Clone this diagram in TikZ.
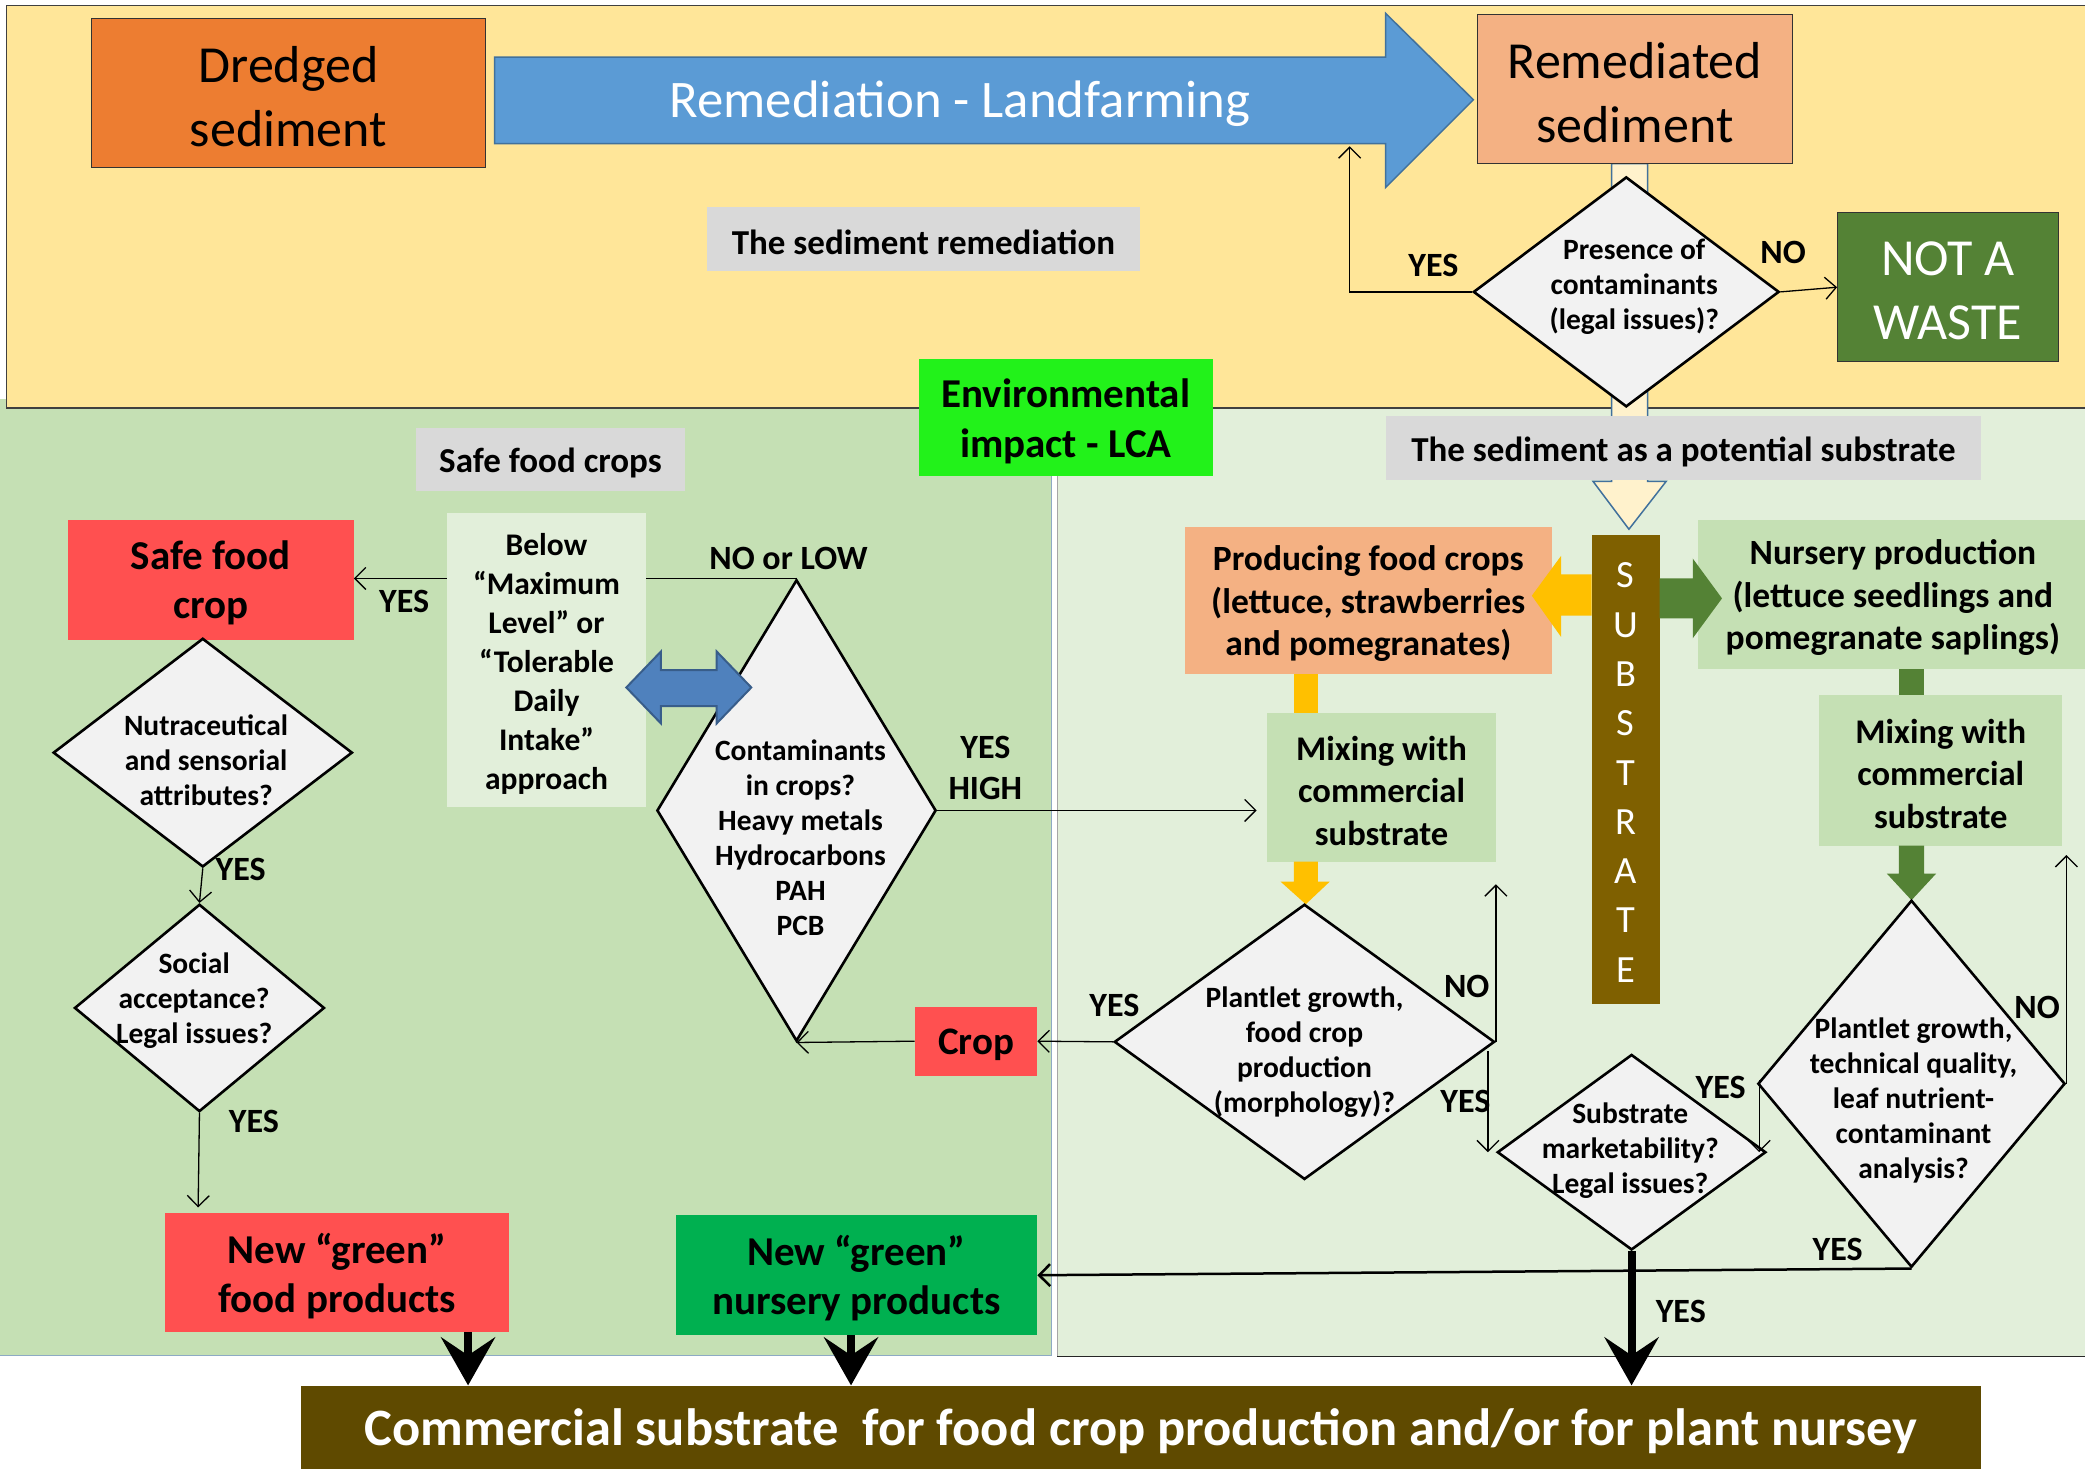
\documentclass[tikz,border=0pt]{standalone}
\usepackage{fontspec}
\setmainfont{Carlito}
\usetikzlibrary{arrows.meta,shapes.geometric,fit,calc}
\definecolor{yel}{HTML}{FFE699}
\definecolor{lgreen}{HTML}{C5E0B4}
\definecolor{rgreen}{HTML}{E2EFDA}
\definecolor{orangef}{HTML}{ED7D31}
\definecolor{bluef}{HTML}{5B9BD5}
\definecolor{bluebord}{HTML}{41719C}
\definecolor{salmon}{HTML}{F4B183}
\definecolor{darkgreen}{HTML}{548235}
\definecolor{graylab}{HTML}{D9D9D9}
\definecolor{envgreen}{HTML}{22F21A}
\definecolor{redf}{HTML}{FF5050}
\definecolor{dblf}{HTML}{4F81BD}
\definecolor{dblb}{HTML}{385D8A}
\definecolor{diaf}{HTML}{F2F2F2}
\definecolor{nurgreen}{HTML}{00B050}
\definecolor{commf}{HTML}{5F4A00}
\definecolor{subf}{HTML}{7F6000}
\definecolor{yarr}{HTML}{FFC000}
\definecolor{cream}{HTML}{FFF2CC}
% box drawn from its corners, text set in a separate node at its centre
\newcommand\fitbox[5]{\node[box, #1, fit={#2}] (#3) {}; \node[box, #4] (#3t) at ($(#3)+(0,2.5)$) {#5};}
\begin{document}
\begin{tikzpicture}[x=1.3297pt,y=-1.3297pt,
  box/.style={inner sep=0pt, align=center},
  bigtxt/.style={font=\fontsize{52pt}{64pt}\selectfont},
  grayt/.style={font=\bfseries\fontsize{35pt}{40pt}\selectfont},
  dia/.style={diamond, draw=black, line width=2.6pt, fill=diaf, inner sep=0pt},
  dtext/.style={align=center, inner sep=0pt, font=\bfseries\fontsize{29.5pt}{35pt}\selectfont},
  lbl/.style={inner sep=0pt, align=center, font=\bfseries\fontsize{34pt}{41pt}\selectfont},
  arr/.style={line width=1.3pt, -{Straight Barb[length=11pt,width=22pt]}},
  bigarr/.style={line width=8pt, -{Stealth[length=48pt,width=54pt,inset=18pt]}}
]
\useasboundingbox (0,0) rectangle (1568,1105);
\fill[white] (0,0) rectangle (1568,1105);

% panels
\fill[lgreen] (0,300) rectangle (791,1019);
\draw[bluebord!60, line width=1pt] (791,300) -- (791,1019) -- (0,1019);
\fill[rgreen] (795,307) rectangle (1570,1020);
\draw[gray!70, line width=0.8pt] (795,307) -- (795,1020);
\draw[black!85, line width=1.6pt] (795,1020) -- (1570,1020);
\fill[yel] (5,4) rectangle (1570,307);
\draw[black!75, line width=1.5pt] (1570,4) -- (5,4) -- (5,307) -- (1570,307);

% cream block arrow from remediated sediment to substrate
\draw[fill=cream, draw=bluebord, line width=1.5pt] (1212,123) -- (1239,123) -- (1239,362) -- (1253,362) -- (1225,398) -- (1198,362) -- (1212,362) -- cycle;

% blue landfarming arrow
\draw[fill=bluef, draw=bluebord, line width=1.5pt] (372,43) -- (1042,43) -- (1042,10) -- (1108,75) -- (1042,141) -- (1042,108) -- (372,108) -- cycle;
\node[box, text=white, font=\fontsize{52.8pt}{64pt}\selectfont] (land) at (722,78) {Remediation - Landfarming};

% top boxes
\fitbox{fill=orangef, draw=black!80, line width=1.2pt}{(69,14)(365,126)}{dredged}{bigtxt}{Dredged\\sediment}
\fitbox{fill=salmon, draw=black!80, line width=1.2pt}{(1111,11)(1348,123)}{remed}{bigtxt}{Remediated\\sediment}
\fitbox{fill=darkgreen, draw=black!80, line width=1.2pt}{(1382,160)(1548,272)}{notw}{text=white, font=\fontsize{52pt}{64pt}\selectfont}{NOT A\\WASTE}
\fitbox{fill=graylab}{(532,156)(857,204)}{sedrem}{grayt}{The sediment remediation}

% presence diamond
\node[dia, minimum width=305.8pt, minimum height=230pt] (pres) at (1223,219.5) {};
\node[dtext] (prest) at (1229,216) {Presence of\\contaminants\\(legal issues)?};
\node[lbl] (yes1) at (1078,200) {YES};
\node[lbl] (no1) at (1341,190) {NO};
\coordinate (landbot) at (1015,110);
\draw[arr] (pres.west) -| (landbot);
\draw[arr] (pres.east) -- (notw.west);

% middle labels
\fitbox{fill=envgreen}{(691,270)(912,358)}{env}{font=\bfseries\fontsize{41pt}{50pt}\selectfont}{Environmental\\impact - LCA}
\fitbox{fill=graylab}{(313,322)(515,369)}{sfcrops}{grayt}{Safe food crops}
\fitbox{fill=graylab}{(1042,313)(1490,361)}{subpot}{grayt}{The sediment as a potential substrate}

% left part
\fitbox{fill=redf}{(51,391)(266,481)}{safe}{font=\bfseries\fontsize{41pt}{49pt}\selectfont}{Safe food\\crop}
\fitbox{fill=rgreen}{(336,386)(486,607)}{below}{font=\bfseries\fontsize{31.5pt}{39pt}\selectfont}{Below\\“Maximum\\Level” or\\“Tolerable\\Daily\\Intake”\\approach}

\node[dia, minimum width=279.2pt, minimum height=461.4pt] (cont) at (599,609.5) {};
\node[dtext] (contt) at (602,630) {Contaminants\\in crops?\\Heavy metals\\Hydrocarbons\\PAH\\PCB};
\draw[fill=dblf, draw=dblb, line width=2pt] (471,517) -- (497,490) -- (497,504) -- (539,504) -- (539,490) -- (565,517) -- (539,544) -- (539,531) -- (497,531) -- (497,544) -- cycle;

\node[dia, minimum width=299.2pt, minimum height=228.7pt] (nutra) at (152.5,566) {};
\node[dtext] (nutrat) at (155,572) {Nutraceutical\\and sensorial\\attributes?};
\node[dia, minimum width=250pt, minimum height=207.4pt] (social) at (150,758) {};
\node[dtext] (socialt) at (146,752.5) {Social\\acceptance?\\Legal issues?};

\fitbox{fill=redf}{(688,757)(780,809)}{crop}{font=\bfseries\fontsize{39pt}{46pt}\selectfont}{Crop}
\fitbox{fill=redf}{(124,912)(383,1002)}{newfood}{font=\bfseries\fontsize{41pt}{49pt}\selectfont}{New “green”\\food products}
\fitbox{fill=nurgreen}{(508,914)(780,1004)}{newnur}{font=\bfseries\fontsize{41pt}{49pt}\selectfont}{New “green”\\nursery products}

\node[lbl] (no2) at (593,420) {NO or LOW};
\node[lbl] (yes2) at (304,452) {YES};
\node[lbl] (yes3) at (741,577.5) {YES\\HIGH};
\node[lbl] (yes4) at (181,654) {YES};
\node[lbl] (yes5) at (191,843) {YES};

\draw[line width=1.3pt] (cont.north) -- (cont.north -| below.east);
\draw[arr] (cont.north -| below.west) -- (cont.north -| safe.east);
\coordinate (mixin) at (945,609.5);
\draw[arr] (cont.east) -- (mixin);
\draw[arr] (crop.west) -- (cont.south);
\draw[arr] (nutra.south) -- (social.north);
\coordinate (foodin) at (149,908);
\draw[arr] (social.south) -- (foodin);

% right part
\fitbox{fill=salmon}{(891,396)(1167,507)}{prod}{font=\bfseries\fontsize{35.5pt}{42.5pt}\selectfont}{Producing food crops\\(lettuce, strawberries\\and pomegranates)}
\fitbox{fill=lgreen}{(1277,391)(1570,503)}{nursery}{font=\bfseries\fontsize{35.5pt}{42.5pt}\selectfont}{Nursery production\\(lettuce seedlings and\\pomegranate saplings)}
\fitbox{fill=subf}{(1197,402)(1248,755)}{subbar}{text=white, font=\fontsize{38.5pt}{49.3pt}\selectfont}{S\\U\\B\\S\\T\\R\\A\\T\\E}
\fill[yarr] (1197,432) -- (1174,432) -- (1174,418) -- (1152,448) -- (1174,479) -- (1174,463) -- (1197,463) -- cycle;
\fill[darkgreen] (1248,435) -- (1273,435) -- (1273,420) -- (1295,450) -- (1273,480) -- (1273,465) -- (1248,465) -- cycle;

\fitbox{fill=lgreen}{(953,536)(1125,648)}{mix1}{font=\bfseries\fontsize{34.6pt}{42.5pt}\selectfont}{Mixing with\\commercial\\substrate}
\fitbox{fill=lgreen}{(1368,523)(1551,636)}{mix2}{font=\bfseries\fontsize{34.6pt}{42.5pt}\selectfont}{Mixing with\\commercial\\substrate}

\fill[yarr] (973,507) rectangle (991,536);
\fill[yarr] (973,648) -- (991,648) -- (991,663) -- (1000,663) -- (982,680) -- (963,663) -- (973,663) -- cycle;
\fill[darkgreen] (1428,503) rectangle (1447,523);
\fill[darkgreen] (1428,636) -- (1447,636) -- (1447,657) -- (1456,657) -- (1437.5,677) -- (1419,657) -- (1428,657) -- cycle;

\node[dia, minimum width=380.3pt, minimum height=275.2pt] (plant1) at (981,783.5) {};
\node[dtext] (plant1t) at (981,791) {Plantlet growth,\\food crop\\production\\(morphology)?};
\node[dia, minimum width=268.6pt, minimum height=195.5pt] (subst) at (1227,866.5) {};
\node[dtext] (substt) at (1226,865.5) {Substrate\\marketability?\\Legal issues?};
\node[dia, minimum width=307.2pt, minimum height=367pt] (plant2) at (1437.5,815) {};
\node[dtext] (plant2t) at (1439,827.5) {Plantlet growth,\\technical quality,\\leaf nutrient-\\contaminant\\analysis?};

\node[lbl] (yes6) at (838,756) {YES};
\node[lbl] (no3) at (1103,742) {NO};
\node[lbl] (yes7) at (1102,828) {YES};
\node[lbl] (yes8) at (1294,818) {YES};
\node[lbl] (no4) at (1532,758) {NO};
\node[lbl] (yes9) at (1382,940) {YES};
\node[lbl] (yes10) at (1264,986) {YES};

\draw[arr] (plant1.west) -- (crop.east);
\coordinate (nofood) at (1124,665);
\draw[arr] (plant1.east) -- (plant1.east |- nofood);
\coordinate (yesA) at ($(plant1.east)+(-6,7)$);
\draw[arr] (yesA) -- (yesA |- subst.west);
\coordinate (yesB) at ($(plant2.west)+(2,-3)$);
\draw[arr] (yesB) -- (yesB |- subst.east);
\coordinate (noB) at (1553,643);
\draw[arr] (plant2.east) -- (plant2.east |- noB);
\draw[arr, line width=2.5pt] (plant2.south) -- (newnur.east);

% bottom bar
\fitbox{fill=commf}{(226,1042)(1490,1105)}{comm}{text=white, font=\bfseries\fontsize{52.5pt}{56pt}\selectfont}{Commercial substrate\ \ for food crop production and/or for plant nursey}
\coordinate (fa) at (352,1002);
\coordinate (fb) at (640,1004);
\draw[bigarr] (fa) -- (fa |- comm.north);
\draw[bigarr] (fb) -- (fb |- comm.north);
\draw[bigarr] (subst.south) -- (subst.south |- comm.north);
\end{tikzpicture}
\end{document}
